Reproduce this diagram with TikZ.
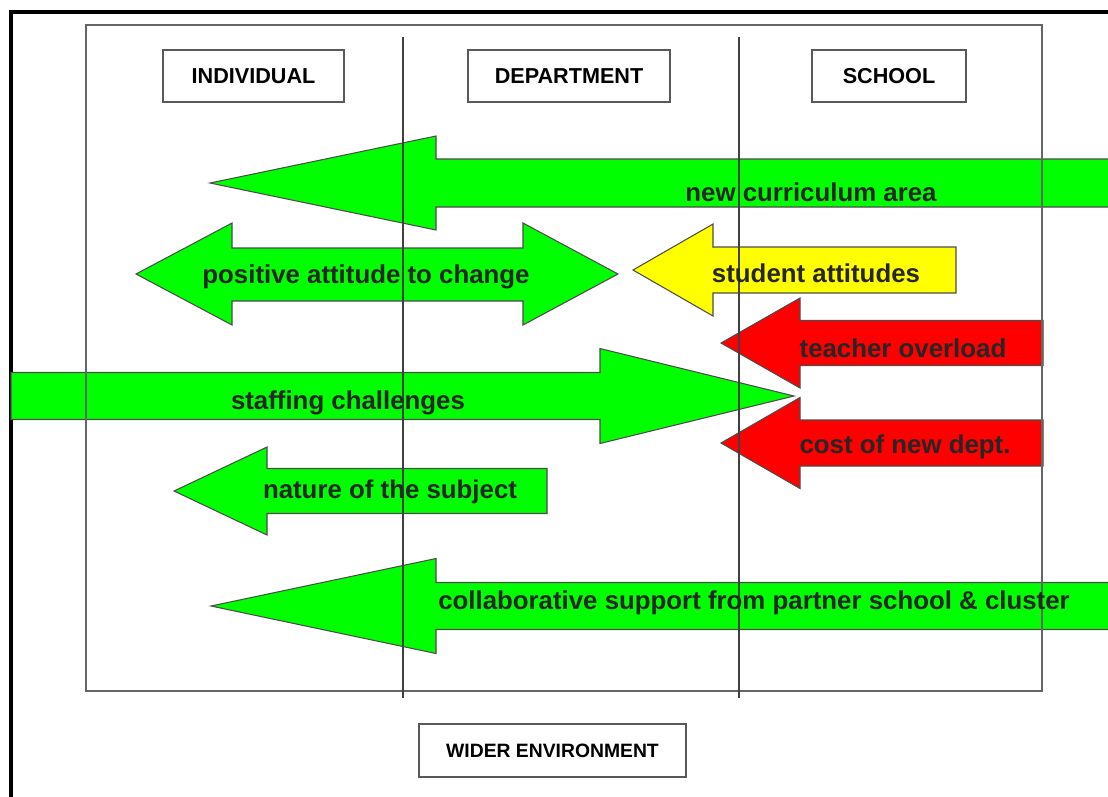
\documentclass[tikz,border=0pt]{standalone}
\usepackage{fontspec}
\setmainfont{Liberation Sans}
\usepackage{xcolor}
\usepackage{tikz}
\usetikzlibrary{positioning,calc}

\definecolor{arrowgreen}{HTML}{00FF00}
\definecolor{arrowyellow}{HTML}{FFFF00}
\definecolor{arrowred}{HTML}{FF0000}

% block arrow: fill, tip x, mid y, head x, end x, half shaft, half head
\newcommand{\blockarrow}[7]{%
  \filldraw[arrowline,fill=#1] (#2,#3) -- (#4,#3-#7) -- (#4,#3-#6) -- (#5,#3-#6)
    -- (#5,#3+#6) -- (#4,#3+#6) -- (#4,#3+#7) -- cycle;}

\begin{document}
\begin{tikzpicture}[
            x=0.02cm, y=-0.02cm,
            arrowline/.style={draw=black!70, line width=0.6pt, line join=miter},
            levelbox/.style={rectangle, draw=black!65, line width=1.2pt, fill=white, font=\fontsize{12.3}{14}\selectfont\bfseries},
            arrowtext/.style={text=black!85, font=\fontsize{14.7}{17}\selectfont\bfseries, inner sep=0pt},
            divider/.style={draw=black!75, line width=0.8pt}
        ]
            \useasboundingbox (0,0) rectangle (1108,796);
            \clip (0,0) rectangle (1108,796);

            % outer frame (open at right and bottom)
            \draw[line width=1.8pt] (11,1000) -- (11,12) -- (1200,12);

            % arrows
            \blockarrow{arrowgreen}{210}{183}{436}{1120}{24}{47}
            \filldraw[arrowline,fill=arrowgreen] (136,274) -- (232,223) -- (232,248) -- (523,248) -- (523,223)
                -- (618,274) -- (523,325) -- (523,301) -- (232,301) -- (232,325) -- cycle;
            \blockarrow{arrowyellow}{633}{270}{713}{956}{23}{46}
            \blockarrow{arrowred}{721}{343}{800}{1043}{22.5}{45}
            \blockarrow{arrowred}{721}{443}{800}{1043}{23}{45.5}
            \blockarrow{arrowgreen}{794}{396}{600}{11}{23.5}{47.5}
            \blockarrow{arrowgreen}{174}{491}{267}{547}{22.5}{44}
            \blockarrow{arrowgreen}{211}{606}{436}{1120}{23.5}{47.5}

            % inner box and columns
            \draw[draw=black!60, line width=1.2pt] (86,25) rectangle (1042,691);
            \draw[divider] (403,37) -- (403,698);
            \draw[divider] (739,37) -- (739,698);

            % levels
            \node[levelbox, minimum width=3.62cm, minimum height=1.04cm] (individual) at (253.5,76) {INDIVIDUAL};
            \node[levelbox, minimum width=4.04cm, minimum height=1.04cm] (department) at (569,76) {DEPARTMENT};
            \node[levelbox, minimum width=3.08cm, minimum height=1.04cm] (school) at (889,76) {SCHOOL};
            \node[levelbox, minimum width=5.34cm, minimum height=1.06cm, font=\fontsize{11}{13}\selectfont\bfseries] (wider) at (552.5,750.5) {WIDER ENVIRONMENT};

            % arrow texts
            \node[arrowtext] (curriculum) at (811,192) {new curriculum area};
            \node[arrowtext] (positive) at (366,277) {positive attitude to change};
            \node[arrowtext] (students) at (816,273) {student attitudes};
            \node[arrowtext] (overload) at (903,348) {teacher overload};
            \node[arrowtext] (cost) at (905,447) {cost of new dept.};
            \node[arrowtext] (staffing) at (348,403) {staffing challenges};
            \node[arrowtext] (nature) at (390,492) {nature of the subject};
            \node[arrowtext] (support) at (754,603) {collaborative support from partner school \& cluster};
        \end{tikzpicture}
\end{document}
